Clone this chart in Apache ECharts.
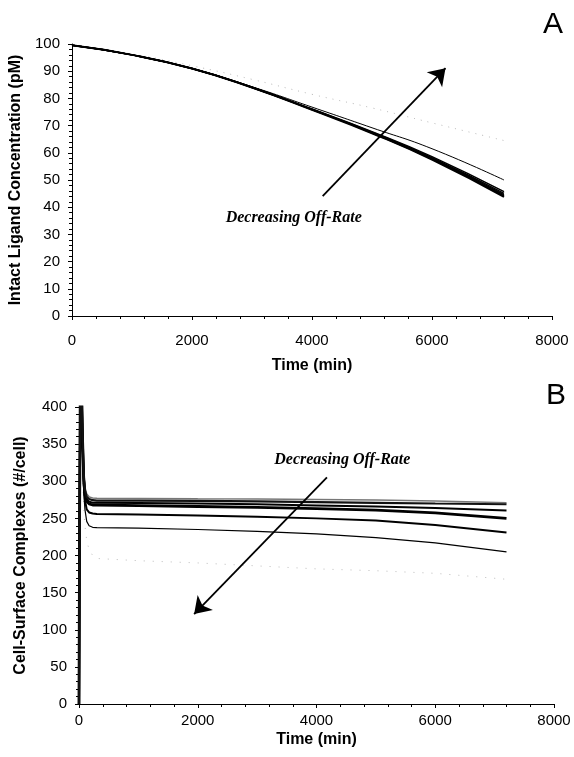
<!DOCTYPE html>
<html><head><meta charset="utf-8">
<script src="https://cdn.jsdelivr.net/npm/echarts@6/dist/echarts.min.js"></script>
<style>html,body{margin:0;padding:0;background:#fff}#c{width:574px;height:757px}</style>
</head><body><div id="c"></div>
<script>
// ---------- Panel A data ----------
const timeA = [0, 1000, 2000, 3000, 4000, 5000, 6000, 7200];
const ligandA1 = [99.5, 96.0, 91.0, 84.0, 75.8, 67.2, 57.5, 43.8];
const ligandA2 = [99.5, 96.0, 91.0, 84.0, 75.9, 67.3, 57.7, 44.2];
const ligandA3 = [99.5, 96.0, 91.0, 84.0, 75.9, 67.4, 57.9, 44.6];
const ligandA4 = [99.5, 96.0, 91.0, 84.1, 76.0, 67.6, 58.2, 45.1];
const ligandA5 = [99.5, 96.0, 91.0, 84.1, 76.1, 67.8, 58.6, 45.7];
const ligandA6 = [99.5, 96.0, 91.0, 84.3, 76.8, 69.2, 61.5, 50.0];
const ligandA7 = [99.5, 96.3, 92.0, 87.0, 81.5, 76.5, 71.0, 64.5];

// ---------- Panel B data ----------
const timeB = [0, 10, 25, 40, 60, 80, 100, 130, 170, 230, 300, 1000, 2000, 3000, 4000, 5000, 6000, 7200];
const complexB1 = [0, 250, 480, 440, 360, 310, 292, 283, 279, 277.5, 277, 276.8, 276.3, 276, 275.5, 274.8, 273.5, 271];
const complexB2 = [0, 250, 480, 440, 360, 308, 288, 279, 276, 274.5, 274, 273.8, 273.5, 273, 272, 271, 270, 269];
const complexB3 = [0, 250, 480, 440, 358, 305, 285, 276, 272.5, 271, 271, 270.6, 270, 269, 267.5, 266, 264, 260.5];
const complexB4 = [0, 250, 480, 440, 356, 302, 282, 273, 269.5, 268, 268, 267.3, 266, 264.7, 263, 261, 257.5, 250];
const complexB5 = [0, 250, 478, 436, 350, 295, 275, 262, 258, 256.5, 256, 255.3, 254, 252.3, 250, 247, 241, 231];
const complexB6 = [0, 248, 475, 430, 340, 285, 262, 246, 240, 238, 237.5, 236.8, 235, 232.5, 229, 224, 217, 205];
const complexB7 = [0, 245, 470, 420, 320, 265, 240, 220, 208, 200, 196, 193, 190, 186, 182, 179.5, 176, 168];

// ---------- Annotations (data coordinates) ----------
const arrowA = [[4178, 44.1], [6225, 91.1]];
const labelA = [3695, 36];
const arrowB = [[4176, 305.3], [1939, 121.2]];
const labelB = [4435, 328.6];
const annotationText = 'Decreasing Off-Rate';

const pairs = (xs, ys) => xs.map((x, i) => [x, ys[i]]);
const SANS = 'Liberation Sans, Arial, sans-serif';

function xAxisDef(gridIndex, gap, margin) {
  return {
    gridIndex, type: 'value', min: 0, max: 8000, interval: 2000,
    name: 'Time (min)', nameLocation: 'middle', nameGap: gap,
    nameTextStyle: { fontFamily: SANS, fontWeight: 'bold', fontSize: 16, color: '#000' },
    axisLine: { show: true, onZero: false, lineStyle: { color: '#000', width: 1 } },
    axisTick: { show: true, length: 4, lineStyle: { color: '#000' } },
    minorTick: { show: true, splitNumber: 5, length: 3, lineStyle: { color: '#000' } },
    axisLabel: { fontFamily: SANS, fontSize: 15, color: '#000', margin, formatter: v => String(v) },
    splitLine: { show: false }
  };
}
function yAxisDef(gridIndex, max, interval, name, gap) {
  return {
    gridIndex, type: 'value', min: 0, max, interval,
    name, nameLocation: 'middle', nameGap: gap,
    nameTextStyle: { fontFamily: SANS, fontWeight: 'bold', fontSize: 16, color: '#000' },
    axisLine: { show: true, onZero: false, lineStyle: { color: '#000', width: 1 } },
    axisTick: { show: true, length: 4, lineStyle: { color: '#000' } },
    minorTick: { show: true, splitNumber: 5, length: 3, lineStyle: { color: '#000' } },
    axisLabel: { fontFamily: SANS, fontSize: 15, color: '#000', margin: 12, formatter: v => String(v) },
    splitLine: { show: false }
  };
}

function lineSeries(xi, data, color, width, type, smooth) {
  return {
    type: 'line', xAxisIndex: xi, yAxisIndex: xi, data, showSymbol: false, symbol: 'none',
    smooth, clip: true, silent: true,
    lineStyle: { color, width, type }
  };
}

function annotate(series, arrow, label) {
  series.markLine = {
    silent: true, symbol: ['none', 'arrow'], symbolSize: 16,
    lineStyle: { color: '#000', width: 1.8, type: 'solid' },
    label: { show: false },
    data: [[{ coord: arrow[0] }, { coord: arrow[1] }]]
  };
  series.markPoint = {
    silent: true,
    data: [{
      coord: label, symbol: 'circle', symbolSize: 0,
      label: { show: true, position: 'inside', formatter: annotationText,
        fontFamily: 'Liberation Serif, Times New Roman, serif', fontStyle: 'italic',
        fontWeight: 'bold', fontSize: 16, color: '#000' }
    }]
  };
  return series;
}

const seriesA = [
  lineSeries(0, pairs(timeA, ligandA7), '#bbb', 1, [1, 6], true),
  lineSeries(0, pairs(timeA, ligandA6), '#000', 1, 'solid', true),
  lineSeries(0, pairs(timeA, ligandA5), '#000', 1.5, 'solid', true),
  lineSeries(0, pairs(timeA, ligandA4), '#000', 1.5, 'solid', true),
  lineSeries(0, pairs(timeA, ligandA3), '#000', 1.5, 'solid', true),
  lineSeries(0, pairs(timeA, ligandA2), '#000', 1.5, 'solid', true),
  lineSeries(0, pairs(timeA, ligandA1), '#000', 2, 'solid', true)
];
annotate(seriesA[1], arrowA, labelA);

const seriesB = [
  lineSeries(1, pairs(timeB, complexB7), '#bbb', 1, [1, 8], false),
  lineSeries(1, pairs(timeB, complexB1), '#777', 1.5, 'solid', false),
  lineSeries(1, pairs(timeB, complexB6), '#000', 1.2, 'solid', false),
  lineSeries(1, pairs(timeB, complexB5), '#000', 2, 'solid', false),
  lineSeries(1, pairs(timeB, complexB4), '#000', 2.8, 'solid', false),
  lineSeries(1, pairs(timeB, complexB3), '#000', 2, 'solid', false),
  lineSeries(1, pairs(timeB, complexB2), '#111', 2.2, 'solid', false)
];
annotate(seriesB[2], arrowB, labelB);

const chart = echarts.init(document.getElementById('c'), null, { renderer: 'canvas' });
chart.setOption({
  animation: false,
  backgroundColor: '#fff',
  grid: [
    { left: 72, right: 22, top: 44, height: 272 },
    { left: 79, right: 20, top: 407, height: 297 }
  ],
  xAxis: [xAxisDef(0, 42, 17), xAxisDef(1, 28, 9)],
  yAxis: [
    yAxisDef(0, 100, 10, 'Intact Ligand Concentration (pM)', 44),
    yAxisDef(1, 400, 50, 'Cell-Surface Complexes (#/cell)', 50)
  ],
  graphic: [
    { type: 'text', left: 543, top: 10, style: { text: 'A', font: '30px Liberation Sans, Arial, sans-serif', fill: '#000' } },
    { type: 'text', left: 546, top: 381, style: { text: 'B', font: '30px Liberation Sans, Arial, sans-serif', fill: '#000' } }
  ],
  series: seriesA.concat(seriesB)
});
</script>
</body></html>
